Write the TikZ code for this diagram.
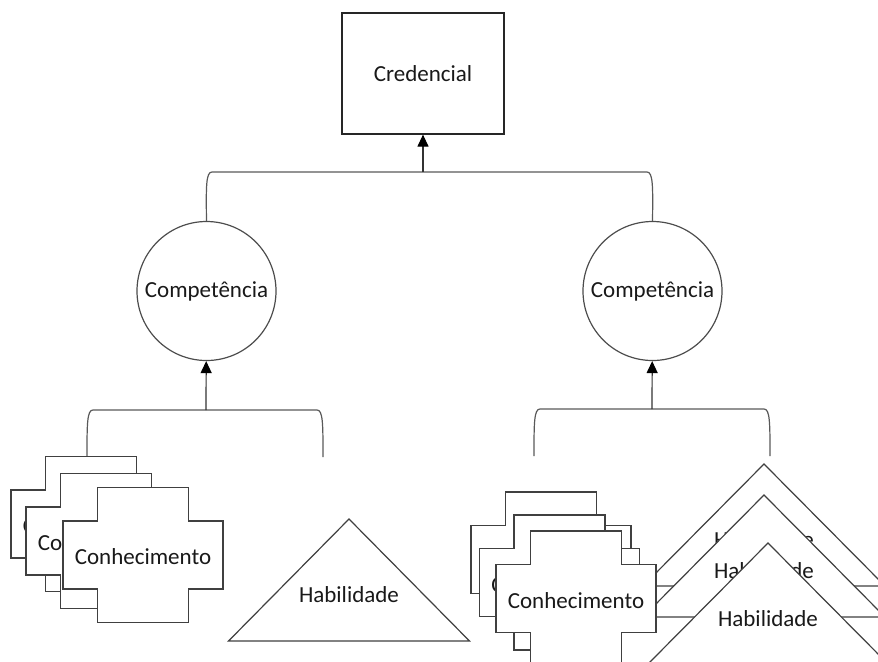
\documentclass[tikz,border=0pt]{standalone}
\usepackage{fontspec}
\setmainfont{Carlito}
\usetikzlibrary{arrows.meta}

\begin{document}
\begin{tikzpicture}[x=0.5pt,y=-0.5pt,>={Triangle[length=6pt,width=5.5pt,color=black]},line width=0.6pt,
  every node/.style={font=\fontsize{11.5}{13}\selectfont,text=black!90},
  cred node/.style={rectangle,draw=black!85,minimum width=81pt,minimum height=60.5pt},
  comp node/.style={circle,draw=black!70,minimum size=69.5pt,inner sep=0pt},
  shape line/.style={draw=black!75,fill=white},
  brace line/.style={draw=black!65},
  join arrow/.style={draw=black!80,->}]

  \useasboundingbox (0,0) rectangle (878,661);
  \clip (0,0) rectangle (878,661);

  \node[cred node] (cred) at (423,73.5) {Credencial};
  \node[comp node] (compL) at (206.5,291) {Competência};
  \node[comp node] (compR) at (652.5,291) {Competência};

  % joins of the brackets
  \coordinate (upjoin) at (423,172);
  \coordinate (joinL) at (206,410);
  \coordinate (joinR) at (652,409);
  \coordinate (kl end) at (87,457);
  \coordinate (hl end) at (323,457);
  \coordinate (kr end) at (534,456);
  \coordinate (hr end) at (770,456);

  \draw[brace line] (compL.north) .. controls (206,186) and (206,172) .. (212,172) -- (647,172)
    .. controls (653,172) and (653,186) .. (compR.north);
  \draw[brace line] (kl end) .. controls (87,424) and (87,410) .. (93,410) -- (317,410)
    .. controls (323,410) and (323,424) .. (hl end);
  \draw[brace line] (kr end) .. controls (534,423) and (534,409) .. (540,409) -- (764,409)
    .. controls (770,409) and (770,423) .. (hr end);

  \draw[join arrow] (upjoin) -- (cred);
  \draw[join arrow] (joinL) -- (compL);
  \draw[join arrow] (joinR) -- (compR);

  % left group
  \foreach \name/\x/\y in {kl1/91/524,kl2/106/541,kl3/143/555}{
    \filldraw[shape line] (\x,\y) ++(-45.5,-67.5) -- ++(91,0) -- ++(0,33.5) -- ++(34.5,0)
      -- ++(0,68) -- ++(-34.5,0) -- ++(0,33.5) -- ++(-91,0) -- ++(0,-33.5) -- ++(-34.5,0)
      -- ++(0,-68) -- ++(34.5,0) -- cycle;
    \node (\name) at ({\x},{\y+2}) {Conhecimento};
  }
  \filldraw[shape line] (349,519) -- ++(120.5,122) -- ++(-241,0) -- cycle;
  \node (hl1) at (349,595) {Habilidade};

  % right group
  \foreach \name/\x/\y in {hr1/764/464,hr2/764/495,hr3/768/543}{
    \filldraw[shape line] (\x,\y) -- ++(121,122) -- ++(-242,0) -- cycle;
    \node (\name) at ({\x},{\y+76}) {Habilidade};
  }
  \foreach \name/\x/\y in {kr1/551/559.5,kr2/559.5/582.5,kr3/576/598.5}{
    \filldraw[shape line] (\x,\y) ++(-45.5,-67.5) -- ++(91,0) -- ++(0,33.5) -- ++(34.5,0)
      -- ++(0,68) -- ++(-34.5,0) -- ++(0,33.5) -- ++(-91,0) -- ++(0,-33.5) -- ++(-34.5,0)
      -- ++(0,-68) -- ++(34.5,0) -- cycle;
    \node (\name) at ({\x},{\y+2}) {Conhecimento};
  }

\end{tikzpicture}
\end{document}
